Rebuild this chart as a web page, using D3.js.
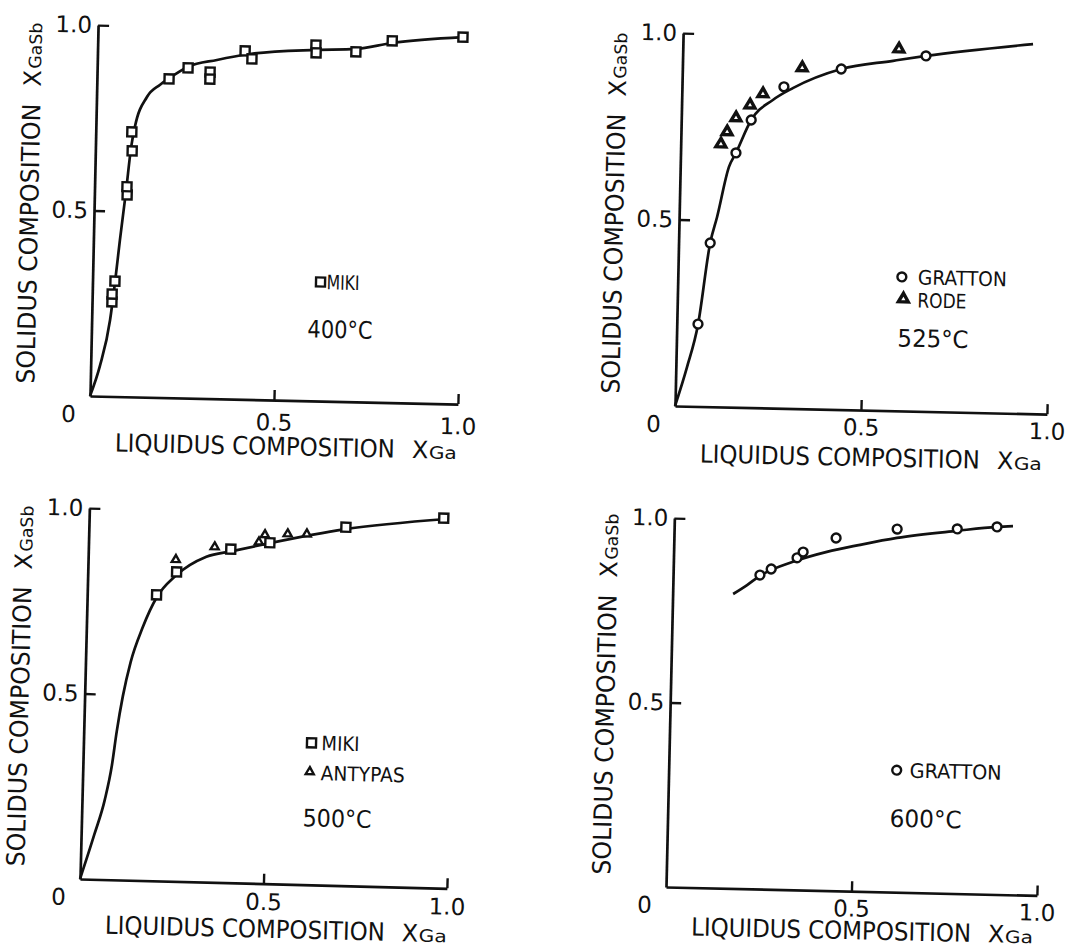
<!DOCTYPE html>
<html>
<head>
<meta charset="utf-8">
<script src="https://cdn.jsdelivr.net/npm/d3@7"></script>
<style>
  body { margin: 0; background: #fff; }
  svg { display: block; }
  text { font-family: "DejaVu Sans", sans-serif; fill: #111; }
</style>
</head>
<body>
<svg id="chart" width="1066" height="952"></svg>
<script>
// ---- data (x = liquidus X_Ga, y = solidus X_GaSb) ----
const tickValues = [0.5, 1.0];
const tickLabels = ['0.5', '1.0'];

// 400 C
const p400Miki = [
  [0.054, 0.255], [0.054, 0.276], [0.061, 0.311], [0.089, 0.544], [0.088, 0.566],
  [0.100, 0.663], [0.098, 0.714], [0.196, 0.859], [0.247, 0.890], [0.307, 0.880],
  [0.307, 0.861], [0.401, 0.939], [0.420, 0.918], [0.593, 0.959], [0.594, 0.938],
  [0.702, 0.943], [0.800, 0.975], [0.992, 0.989]
];
const p400Curve = [
  [0, 0], [0.025, 0.081], [0.050, 0.206], [0.061, 0.306], [0.072, 0.422], [0.086, 0.557],
  [0.097, 0.673], [0.106, 0.728], [0.137, 0.809], [0.172, 0.843], [0.198, 0.862],
  [0.247, 0.893], [0.325, 0.913], [0.414, 0.931], [0.594, 0.946], [0.702, 0.951],
  [0.800, 0.969], [0.992, 0.989]
];

// 525 C
const p525Gratton = [
  [0.057, 0.221], [0.085, 0.439], [0.149, 0.682], [0.188, 0.771], [0.274, 0.862],
  [0.427, 0.913], [0.654, 0.953]
];
const p525Rode = [
  [0.108, 0.705], [0.124, 0.738], [0.147, 0.776], [0.184, 0.811], [0.218, 0.842],
  [0.322, 0.914], [0.581, 0.970]
];
const p525Curve = [
  [0, 0], [0.030, 0.105], [0.057, 0.219], [0.085, 0.439], [0.102, 0.509], [0.131, 0.644],
  [0.149, 0.682], [0.188, 0.771], [0.245, 0.826], [0.298, 0.859], [0.427, 0.913],
  [0.566, 0.938], [0.654, 0.953], [0.941, 0.991]
];

// 500 C
const p500Miki = [
  [0.189, 0.771], [0.242, 0.834], [0.388, 0.899], [0.494, 0.919], [0.700, 0.966], [0.966, 0.997]
];
const p500Antypas = [
  [0.239, 0.867], [0.344, 0.904], [0.464, 0.920], [0.480, 0.940], [0.542, 0.944], [0.594, 0.945]
];
const p500Curve = [
  [0, 0], [0.036, 0.121], [0.062, 0.215], [0.079, 0.308], [0.090, 0.401], [0.104, 0.495],
  [0.123, 0.588], [0.153, 0.681], [0.190, 0.765], [0.239, 0.823], [0.322, 0.877],
  [0.392, 0.894], [0.494, 0.918], [0.695, 0.960], [0.974, 0.995]
];

// 600 C
const p600Gratton = [
  [0.234, 0.851], [0.264, 0.868], [0.333, 0.900], [0.349, 0.916], [0.437, 0.956],
  [0.601, 0.984], [0.763, 0.988], [0.870, 0.996]
];
const p600Curve = [
  [0.163, 0.798], [0.200, 0.823], [0.234, 0.849], [0.322, 0.889], [0.413, 0.918],
  [0.502, 0.939], [0.601, 0.960], [0.763, 0.983], [0.870, 0.996], [0.913, 0.999]
];

// ---- panel layout (the scan is tilted by ~1.3 deg, so each panel is rotated) ----
const panels = [
  { ox: 90, oy: 396, rot: 1.25, lx: 368, ly: 371, pad: 14, titleY: 55, curve: p400Curve,
    series: [{ data: p400Miki, mark: 'square' }],
    legend: [{ mark: 'square', mx: 228, my: -119, label: 'MIKI', tx: 234, ty: -119, tl: 33 }],
    temp: { label: '400°C', x: 216, y: -72, tl: 65 } },
  { ox: 675, oy: 406, rot: 1.25, lx: 372, ly: 373, pad: 9, titleY: 56, curve: p525Curve,
    series: [{ data: p525Gratton, mark: 'circle' }, { data: p525Rode, mark: 'triFill' }],
    legend: [
      { mark: 'circle', mx: 224, my: -134, label: 'GRATTON', tx: 240, ty: -134, tl: 89 },
      { mark: 'triFill', mx: 226, my: -112, label: 'RODE', tx: 240, ty: -111, tl: 49 }
    ],
    temp: { label: '525°C', x: 221, y: -73, tl: 71 } },
  { ox: 80, oy: 879, rot: 1.45, lx: 367, ly: 371, pad: 10, titleY: 54, curve: p500Curve,
    series: [{ data: p500Miki, mark: 'square' }, { data: p500Antypas, mark: 'triOpen' }],
    legend: [
      { mark: 'square', mx: 228, my: -142, label: 'MIKI', tx: 238, ty: -142, tl: 38 },
      { mark: 'triOpen', mx: 227, my: -113, label: 'ANTYPAS', tx: 238, ty: -112, tl: 84 }
    ],
    temp: { label: '500°C', x: 221, y: -67, tl: 69 } },
  { ox: 666, oy: 887, rot: 1.3, lx: 371, ly: 369, pad: 9, titleY: 48, curve: p600Curve,
    series: [{ data: p600Gratton, mark: 'circle' }],
    legend: [{ mark: 'circle', mx: 228, my: -122, label: 'GRATTON', tx: 241, ty: -122, tl: 92 }],
    temp: { label: '600°C', x: 222, y: -74, tl: 72 } }
];

const ink = '#111';
const symbols = {
  square: d3.symbol().type(d3.symbolSquare).size(82),
  circle: d3.symbol().type(d3.symbolCircle).size(62),
  triFill: d3.symbol().type(d3.symbolTriangle).size(42),
  triOpen: d3.symbol().type(d3.symbolTriangle).size(28)
};

function drawMark(sel, type) {
  return sel.append('path')
    .attr('d', symbols[type]())
    .attr('fill', '#fff')
    .attr('stroke', ink)
    .attr('stroke-width', type === 'triFill' ? 3.4 : 2.4);
}

const svg = d3.select('#chart');

panels.forEach((p) => {
  const g = svg.append('g')
    .attr('transform', `translate(${p.ox},${p.oy}) rotate(${p.rot})`);

  const x = d3.scaleLinear().domain([0, 1]).range([0, p.lx]);
  const y = d3.scaleLinear().domain([0, 1]).range([0, -p.ly]);

  // axes: ticks point inwards, only 0.5 and 1.0
  const xAxis = d3.axisBottom(x)
    .tickValues(tickValues)
    .tickFormat((d, i) => tickLabels[i])
    .tickSizeInner(-10).tickSizeOuter(0).tickPadding(p.pad);
  const yAxis = d3.axisLeft(y)
    .tickValues(tickValues)
    .tickFormat((d, i) => tickLabels[i])
    .tickSizeInner(-11).tickSizeOuter(0).tickPadding(6);

  [xAxis, yAxis].forEach((ax) => {
    g.append('g').call(ax).call((a) => {
      a.select('.domain').attr('stroke', ink).attr('stroke-width', 2.7);
      a.selectAll('.tick line').attr('stroke', ink).attr('stroke-width', 2.4);
      a.selectAll('.tick text')
        .attr('font-family', '"DejaVu Sans", sans-serif')
        .attr('font-size', 23)
        .attr('fill', ink);
    });
  });

  g.append('text')
    .attr('x', -21).attr('y', 18).attr('dy', '0.36em')
    .attr('text-anchor', 'middle').attr('font-size', 23)
    .text('0');

  // axis titles
  const xt = g.append('g').attr('transform', `translate(0,${p.titleY})`);
  xt.append('text').attr('x', 26).attr('font-size', 25)
    .attr('textLength', 280).attr('lengthAdjust', 'spacingAndGlyphs')
    .text('LIQUIDUS COMPOSITION');
  xt.append('text').attr('x', 323).attr('font-size', 24).text('X');
  xt.append('text').attr('x', 340).attr('font-size', 17)
    .attr('textLength', 28).attr('lengthAdjust', 'spacingAndGlyphs').text('Ga');

  const yt = g.append('g').attr('transform', 'translate(-56,0) rotate(-90)');
  yt.append('text').attr('x', 11).attr('font-size', 25)
    .attr('textLength', 280).attr('lengthAdjust', 'spacingAndGlyphs')
    .text('SOLIDUS COMPOSITION');
  yt.append('text').attr('x', 308).attr('font-size', 24).text('X');
  yt.append('text').attr('x', 326).attr('font-size', 17)
    .attr('textLength', 46).attr('lengthAdjust', 'spacingAndGlyphs').text('GaSb');

  // fitted curve
  const line = d3.line()
    .x((d) => x(d[0]))
    .y((d) => y(d[1]))
    .curve(d3.curveMonotoneX);

  g.append('path')
    .datum(p.curve)
    .attr('d', line)
    .attr('fill', 'none')
    .attr('stroke', ink)
    .attr('stroke-width', 2.7);

  // measured points
  p.series.forEach((s) => {
    s.data.forEach((d) => {
      drawMark(g, s.mark).attr('transform', `translate(${x(d[0])},${y(d[1])})`);
    });
  });

  // legend + temperature
  p.legend.forEach((l) => {
    drawMark(g, l.mark).attr('transform', `translate(${l.mx},${l.my})`);
    g.append('text')
      .attr('x', l.tx).attr('y', l.ty).attr('dy', '0.36em')
      .attr('font-size', 20)
      .attr('textLength', l.tl).attr('lengthAdjust', 'spacingAndGlyphs')
      .text(l.label);
  });

  g.append('text')
    .attr('x', p.temp.x).attr('y', p.temp.y).attr('dy', '0.36em')
    .attr('font-size', 24)
    .attr('textLength', p.temp.tl).attr('lengthAdjust', 'spacingAndGlyphs')
    .text(p.temp.label);
});
</script>
</body>
</html>
